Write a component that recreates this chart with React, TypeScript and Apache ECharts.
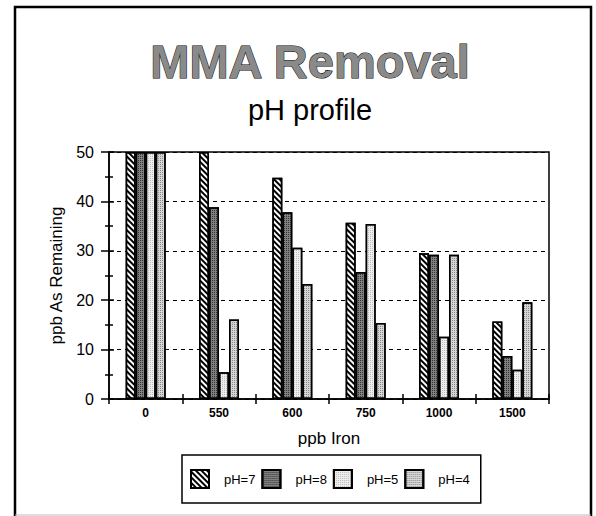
import React, { useEffect, useRef } from 'react';
import * as echarts from 'echarts';

const categories = ['0', '550', '600', '750', '1000', '1500'];
const seriesNames = ['pH=7', 'pH=8', 'pH=5', 'pH=4'];
const pH7 = [50, 50, 44.8, 35.7, 29.5, 15.7];
const pH8 = [50, 38.8, 37.8, 25.7, 29.2, 8.7];
const pH5 = [50, 5.4, 30.6, 35.4, 12.6, 5.9];
const pH4 = [50, 16.1, 23.3, 15.4, 29.2, 19.6];
const yMin = 0;
const yMax = 50;
const yInterval = 10;

const FONT = '"Liberation Sans", Arial, Helvetica, sans-serif';

export default function App() {
  const ref = useRef<HTMLDivElement>(null);
  useEffect(() => {
    const chart = echarts.init(ref.current as HTMLDivElement, null, { renderer: 'svg' });
    const style = (color: string, decal?: any) => ({
      color,
      borderColor: '#000',
      borderWidth: 1.5,
      ...(decal ? { decal } : {}),
    });
    const hatch = {
      symbol: 'rect',
      symbolSize: 1,
      dashArrayX: [1, 0],
      dashArrayY: [2, 2],
      rotation: Math.PI / 4,
      color: '#000',
      backgroundColor: '#fff',
    };
    const stipple = (fg: string, bg: string) => ({
      symbol: 'rect',
      symbolSize: 1,
      dashArrayX: [1, 1],
      dashArrayY: [1, 1],
      rotation: 0,
      color: fg,
      backgroundColor: bg,
    });
    const values = [pH7, pH8, pH5, pH4];
    const styles = [
      style('#fff', hatch),
      style('#808080', stipple('#333', '#a0a0a0')),
      style('#eeeeee', stipple('#bbb', '#fafafa')),
      style('#d6d6d6', stipple('#888', '#eaeaea')),
    ];
    const axisCommon = {
      min: yMin,
      max: yMax,
      interval: yInterval,
    };
    chart.setOption({
      animation: false,
      backgroundColor: '#fff',
      textStyle: { fontFamily: FONT, color: '#000' },
      title: [
        {
          text: 'MMA Removal',
          left: 305,
          top: 33,
          textAlign: 'center',
          textStyle: {
            fontFamily: FONT,
            fontSize: 47,
            fontWeight: 'bold',
            color: '#8a8a8a',
            textBorderColor: '#000',
            textBorderWidth: 1,
          },
        },
        {
          text: 'pH profile',
          left: 305,
          top: 90,
          textAlign: 'center',
          textStyle: { fontFamily: FONT, fontSize: 29, fontWeight: 'normal', color: '#000' },
        },
      ],
      graphic: [
        {
          type: 'polyline',
          shape: { points: [[15, 516], [15, 7], [591, 7], [591, 516]] },
          style: { stroke: '#000', lineWidth: 2.5, fill: null },
          silent: true,
        },
        {
          type: 'line',
          shape: { x1: 15, y1: 515, x2: 591, y2: 515 },
          style: { stroke: '#bbb', lineWidth: 1 },
          silent: true,
        },
      ],
      legend: {
        data: seriesNames,
        left: 182,
        top: 455,
        orient: 'horizontal',
        icon: 'rect',
        itemWidth: 18,
        itemHeight: 18,
        itemGap: 6,
        padding: [14, 11, 14, 8],
        borderColor: '#000',
        borderWidth: 1.5,
        backgroundColor: '#fff',
        textStyle: { fontFamily: FONT, fontSize: 13, color: '#000', padding: [0, 0, 0, 10] },
      },
      grid: {
        left: 109,
        right: 47,
        top: 152,
        bottom: 117,
        show: true,
        borderColor: '#000',
        borderWidth: 1.5,
        backgroundColor: 'transparent',
      },
      xAxis: [
        {
          type: 'category',
          data: categories,
          boundaryGap: true,
          name: 'ppb Iron',
          nameLocation: 'middle',
          nameGap: 31,
          nameTextStyle: { fontFamily: FONT, fontSize: 17, color: '#000' },
          axisLine: { show: true, lineStyle: { color: '#000', width: 1.5 } },
          axisTick: { show: true, length: 5, lineStyle: { color: '#000', width: 1.5 } },
          axisLabel: { fontFamily: FONT, fontSize: 12, fontWeight: 'bold', color: '#000', margin: 8 },
          splitLine: { show: false },
        },
        {
          type: 'category',
          data: categories,
          boundaryGap: true,
          position: 'bottom',
          offset: 0,
          axisLine: { show: false },
          axisTick: { show: true, inside: true, length: 5, lineStyle: { color: '#000', width: 1.5 } },
          axisLabel: { show: false },
          splitLine: { show: false },
        },
      ],
      yAxis: [
        {
          type: 'value',
          ...axisCommon,
          name: 'ppb As Remaining',
          nameLocation: 'middle',
          nameGap: 35,
          nameTextStyle: { fontFamily: FONT, fontSize: 17, color: '#000' },
          axisLine: { show: true, lineStyle: { color: '#000', width: 1.5 } },
          axisTick: { show: true, length: 8, lineStyle: { color: '#000', width: 1.5 } },
          minorTick: { show: true, splitNumber: 2, length: 4, lineStyle: { color: '#000', width: 1.5 } },
          axisLabel: { fontFamily: FONT, fontSize: 16, color: '#000', margin: 15 },
          splitLine: { show: true, lineStyle: { color: '#000', width: 1, type: [4, 4] } },
        },
        {
          type: 'value',
          ...axisCommon,
          position: 'left',
          offset: 0,
          axisLine: { show: false },
          axisTick: { show: true, inside: true, length: 5, lineStyle: { color: '#000', width: 1.5 } },
          minorTick: { show: true, splitNumber: 2, length: 4, lineStyle: { color: '#000', width: 1.5 } },
          axisLabel: { show: false },
          splitLine: { show: false },
        },
      ],
      series: seriesNames.map((name, i) => ({
        name,
        type: 'bar',
        data: values[i],
        xAxisIndex: 0,
        yAxisIndex: 0,
        barWidth: 10,
        barGap: '0%',
        itemStyle: styles[i],
      })),
    });
    return () => chart.dispose();
  }, []);
  return (
    <div
      ref={ref}
      style={{ position: 'absolute', left: 0, top: 0, width: 596, height: 516, background: '#fff' }}
    />
  );
}
